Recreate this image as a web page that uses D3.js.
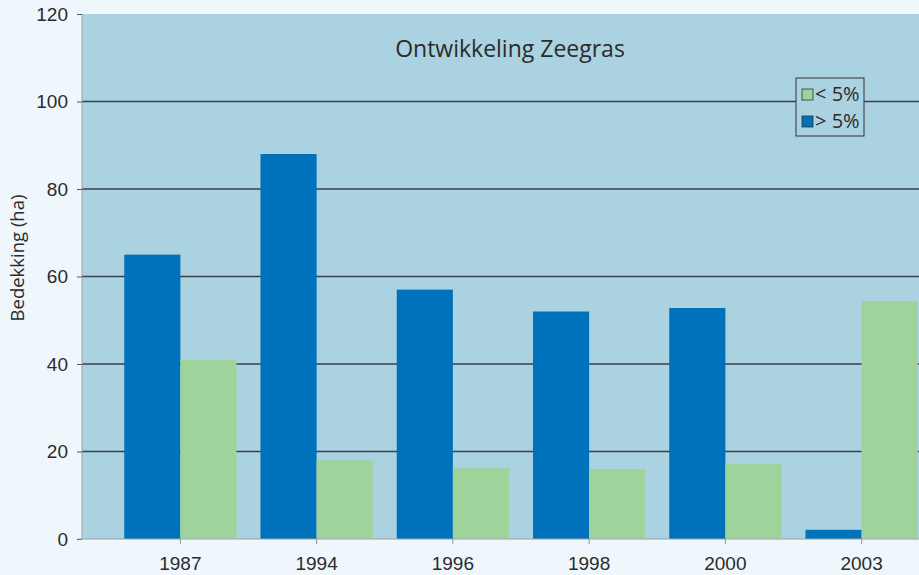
<!DOCTYPE html>
<html>
<head>
<meta charset="utf-8">
<script src="https://cdn.jsdelivr.net/npm/d3@7"></script>
<style>
  body { margin: 0; background: #eff7fc; }
  svg { display: block; font-family: "Open Sans", "DejaVu Sans", sans-serif; }
</style>
</head>
<body>
<svg id="chart"></svg>
<script>
const years = ["1987", "1994", "1996", "1998", "2000", "2003"];
const meer5 = [65, 88, 57, 52, 52.8, 2.1];     // > 5%
const minder5 = [41, 18, 16.2, 16, 17.1, 54.4]; // < 5%
const yTicks = [0, 20, 40, 60, 80, 100, 120];

const W = 919, H = 575;
const plotLeft = 82, plotTop = 14, plotBottom = 539;

const svg = d3.select('#chart').attr('width', W).attr('height', H);

const y = d3.scaleLinear().domain([0, 120]).range([plotBottom, plotTop]);
const x = d3.scaleBand().domain(years)
  .range([plotLeft, 960])
  .paddingInner(0.176)
  .paddingOuter(0.31);
const sub = d3.scaleBand().domain(["meer", "minder"]).range([0, x.bandwidth()]);

// plot background
svg.append('rect')
  .attr('x', plotLeft).attr('y', plotTop)
  .attr('width', W - plotLeft).attr('height', plotBottom - plotTop)
  .attr('fill', '#abd2e1');

// gridlines
svg.selectAll('.grid')
  .data(yTicks.filter(d => d > 0 && d < 120))
  .enter().append('line')
  .attr('x1', plotLeft).attr('x2', W)
  .attr('y1', d => y(d)).attr('y2', d => y(d))
  .attr('stroke', '#3a3f44').attr('stroke-width', 1.3);

const rows = years.map((yr, i) => ({year: yr, meer: meer5[i], minder: minder5[i]}));

const g = svg.selectAll('.grp').data(rows).enter().append('g')
  .attr('transform', d => `translate(${x(d.year)},0)`);

g.append('rect')
  .attr('x', sub('meer')).attr('width', sub.bandwidth())
  .attr('y', d => y(d.meer)).attr('height', d => plotBottom - y(d.meer))
  .attr('fill', '#0072bb');

g.append('rect')
  .attr('x', sub('minder')).attr('width', sub.bandwidth())
  .attr('y', d => y(d.minder)).attr('height', d => plotBottom - y(d.minder))
  .attr('fill', '#9fd39c');

// y axis
const yAxis = svg.append('g')
  .attr('transform', `translate(${plotLeft},0)`)
  .call(d3.axisLeft(y).tickValues(yTicks).tickSize(5).tickPadding(9));
yAxis.select('.domain').attr('stroke', '#9aa3aa').attr('d', `M0,${plotTop}V${plotBottom}`);
yAxis.selectAll('.tick line').attr('stroke', '#555');
yAxis.selectAll('text').attr('font-size', 19).attr('fill', '#2b2b2b');

// x axis
const xAxis = svg.append('g')
  .attr('transform', `translate(0,${plotBottom})`)
  .call(d3.axisBottom(x).tickSize(5).tickPadding(13));
xAxis.select('.domain').attr('stroke', '#9aa3aa').attr('d', `M${plotLeft - 4},0H${W}`);
xAxis.selectAll('.tick line').attr('stroke', '#8c959c');
xAxis.selectAll('text').attr('font-size', 19).attr('fill', '#2b2b2b');

// title
svg.append('text')
  .attr('x', 510).attr('y', 57)
  .attr('text-anchor', 'middle')
  .attr('font-size', 23).attr('fill', '#2b2b2b')
  .text('Ontwikkeling Zeegras');

// y label
svg.append('text')
  .attr('transform', 'translate(24,258) rotate(-90)')
  .attr('text-anchor', 'middle')
  .attr('font-size', 18.5).attr('fill', '#2b2b2b')
  .text('Bedekking (ha)');

// legend
const legend = svg.append('g').attr('transform', 'translate(796,78)');
legend.append('rect')
  .attr('width', 68).attr('height', 58)
  .attr('fill', '#abd2e1').attr('stroke', '#333').attr('stroke-width', 1);
const items = [{label: '< 5%', color: '#9fd39c'}, {label: '> 5%', color: '#0072bb'}];
const li = legend.selectAll('.li').data(items).enter().append('g')
  .attr('transform', (d, i) => `translate(6,${11 + i * 27})`);
li.append('rect').attr('width', 11).attr('height', 11)
  .attr('fill', d => d.color).attr('stroke', '#333').attr('stroke-width', 0.8);
li.append('text').attr('x', 13).attr('y', 12)
  .attr('font-size', 20).attr('fill', '#2b2b2b')
  .text(d => d.label);
</script>
</body>
</html>
